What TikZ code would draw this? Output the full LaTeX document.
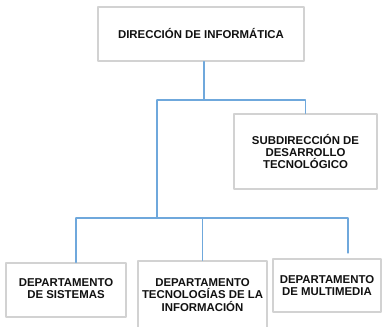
\documentclass[tikz,border=0pt]{standalone}
\usepackage{fontspec}
\setmainfont{Liberation Sans}
\usetikzlibrary{calc}
\definecolor{Ink}{HTML}{111111}
\definecolor{Border}{HTML}{D2D2D2}
\definecolor{Link}{HTML}{6FA8DC}
\tikzset{
  unit box/.style={draw=Border,fill=white,line width=1.1pt,align=center,text=Ink,inner sep=0pt,
    font=\bfseries\fontsize{11.4}{12.2}\selectfont},
  link/.style={draw=Link,line width=1.1pt}
}
\begin{document}
\begin{tikzpicture}[x=1pt,y=-1pt,line cap=round,line join=round]
  \useasboundingbox (0,0) rectangle (382,326);

  % Boxes
  \node[unit box, minimum width=206pt, minimum height=54pt] (dir) at (201,34) {\raisebox{2pt}{DIRECCIÓN DE INFORMÁTICA}};
  \node[unit box, minimum width=143pt, minimum height=75pt] (subdir) at (305.5,151.5) {SUBDIRECCIÓN DE\\DESARROLLO\\TECNOLÓGICO};
  \node[unit box, minimum width=120pt, minimum height=54pt] (depsis) at (66,290) {\raisebox{-2pt}{\begin{tabular}{@{}c@{}}DEPARTAMENTO\\DE SISTEMAS\end{tabular}}};
  \node[unit box, minimum width=129pt, minimum height=68pt] (deptec) at (202.5,295) {DEPARTAMENTO\\TECNOLOGÍAS DE LA\\INFORMACIÓN};
  \node[unit box, minimum width=108pt, minimum height=53pt] (depmul) at (327,285.5) {DEPARTAMENTO\\DE MULTIMEDIA};

  % Junctions
  \coordinate (hubA) at (204,100);
  \coordinate (hubB) at (157,218);
  \coordinate (endM) at (348,253);

  % Connectors
  \draw[link] (dir.south -| hubA) -- (hubA);
  \draw[link] (hubA -| hubB) -- (hubA -| subdir) -- (subdir.north);
  \draw[link] (hubA -| hubB) -- (hubB);
  \draw[link] ([xshift=10pt]depsis.north |- hubB) -- (hubB -| endM) -- (endM);
  \draw[link] ([xshift=10pt]depsis.north |- hubB) -- ([xshift=10pt]depsis.north);
  \draw[link] (deptec.north |- hubB) -- (deptec.north);
\end{tikzpicture}
\end{document}
